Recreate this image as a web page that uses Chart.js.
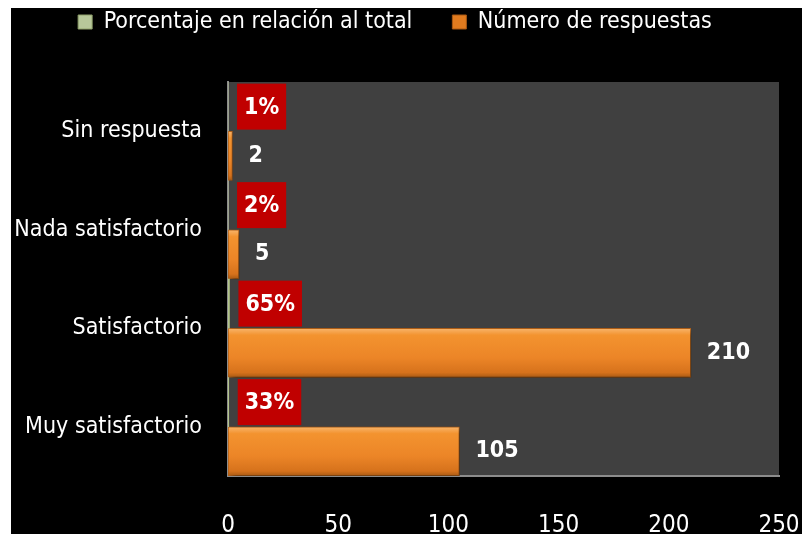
<!DOCTYPE html>
<html lang="es">
<head>
<meta charset="UTF-8">
<title>Satisfacción</title>
<script src="https://cdn.jsdelivr.net/npm/chart.js"></script>
<style>
  html, body { margin: 0; padding: 0; background: #fff; overflow: hidden; }
  #wrap { position: absolute; left: 11px; top: 8px; width: 791px; height: 526px; background: #000; overflow: hidden; }
  #chart { display: block; }
</style>
</head>
<body>
<div id="wrap"><canvas id="chart" width="791" height="560"></canvas></div>
<script>
const categories = ['Sin respuesta', 'Nada satisfactorio', 'Satisfactorio', 'Muy satisfactorio'];
const responseCounts = [2, 5, 210, 105];
const shareOfTotal = [0.01, 0.02, 0.65, 0.33];
const seriesNames = ['Porcentaje en relación al total', 'Número de respuestas'];
const xTicks = [0, 50, 100, 150, 200, 250];

const FONT = "'DejaVu Sans Condensed', 'DejaVu Sans', sans-serif";
const TEXT_SIZE = 23;
Chart.defaults.font.family = FONT;
Chart.defaults.color = '#fff';

// orange bars get a vertical gradient, worked out from the category band
function orangeFill(c) {
    const chart = c.chart;
    const ys = chart.scales.y;
    if (!ys || c.dataIndex == null || !isFinite(ys.top)) return '#EC8527';
    const band = (ys.bottom - ys.top) / categories.length;
    const top = ys.getPixelForValue(c.dataIndex);
    const g = chart.ctx.createLinearGradient(0, top, 0, top + band / 2);
    g.addColorStop(0, '#F8B56C');
    g.addColorStop(0.14, '#F3932F');
    g.addColorStop(0.6, '#EC8527');
    g.addColorStop(0.9, '#D6721C');
    g.addColorStop(1, '#A85913');
    return g;
}

const plotBackground = {
    id: 'plotBackground',
    beforeDraw(chart) {
        const {ctx, chartArea: a} = chart;
        ctx.save();
        ctx.fillStyle = '#404040';
        ctx.fillRect(a.left, a.top, a.right - a.left, a.bottom - a.top);
        ctx.restore();
    }
};

const legendSpace = {
    id: 'legendSpace',
    beforeInit(chart) {
        const legend = chart.legend;
        const fit = legend.fit;
        legend.fit = function () { fit.call(this); this.height = 74; };
    },
    afterLayout(chart) {
        // pull the legend row up near the top edge
        chart.legend.top = -(40 + TEXT_SIZE / 2) + 14;
    }
};

const barShadow = {
    id: 'barShadow',
    beforeDatasetDraw(chart, args) {
        if (args.index !== 1) return;
        const ctx = chart.ctx;
        ctx.save();
        ctx.shadowColor = 'rgba(0,0,0,0.55)';
        ctx.shadowBlur = 6;
        ctx.shadowOffsetX = 3;
        ctx.shadowOffsetY = 3;
    },
    afterDatasetDraw(chart, args) {
        if (args.index !== 1) return;
        chart.ctx.restore();
    }
};

const valueLabels = {
    id: 'valueLabels',
    afterDatasetsDraw(chart) {
        const ctx = chart.ctx;
        ctx.save();
        ctx.font = 'bold ' + TEXT_SIZE + 'px ' + FONT;
        ctx.textBaseline = 'middle';
        ctx.textAlign = 'left';
        chart.getDatasetMeta(0).data.forEach((bar, i) => {
            const text = Math.round(shareOfTotal[i] * 100) + '%';
            const w = ctx.measureText(text).width;
            const x = bar.x + 9;
            ctx.fillStyle = '#C00000';
            ctx.fillRect(x, bar.y - 23, w + 14, 46);
            ctx.fillStyle = '#fff';
            ctx.fillText(text, x + 7, bar.y + 1);
        });
        chart.getDatasetMeta(1).data.forEach((bar, i) => {
            ctx.fillStyle = '#fff';
            ctx.fillText(String(responseCounts[i]), bar.x + 16, bar.y);
        });
        ctx.restore();
    }
};

new Chart(document.getElementById('chart'), {
    type: 'bar',
    data: {
        labels: categories,
        datasets: [
            {
                label: seriesNames[0],
                data: shareOfTotal,
                backgroundColor: '#B3C58A',
                categoryPercentage: 1,
                barPercentage: 1
            },
            {
                label: seriesNames[1],
                data: responseCounts,
                backgroundColor: orangeFill,
                borderColor: '#B8641A',
                borderWidth: 1,
                borderSkipped: false,
                categoryPercentage: 1,
                barPercentage: 1
            }
        ]
    },
    options: {
        indexAxis: 'y',
        responsive: false,
        animation: false,
        layout: { padding: { left: 0, right: 23, top: 0, bottom: 0 } },
        plugins: {
            tooltip: { enabled: false },
            legend: {
                position: 'top',
                labels: {
                    color: '#fff',
                    font: { size: TEXT_SIZE },
                    boxWidth: 14,
                    boxHeight: 14,
                    padding: 40,
                    generateLabels() {
                        return [
                            { text: seriesNames[0], fillStyle: '#B7C79A', strokeStyle: '#8FA06A', lineWidth: 1, fontColor: '#fff', datasetIndex: 0 },
                            { text: seriesNames[1], fillStyle: '#E07B1F', strokeStyle: '#A85913', lineWidth: 1, fontColor: '#fff', datasetIndex: 1 }
                        ];
                    }
                }
            }
        },
        scales: {
            x: {
                min: 0,
                max: 250,
                afterBuildTicks(scale) { scale.ticks = xTicks.map(v => ({ value: v })); },
                afterFit(scale) {
                    scale.height = 92;
                    scale.paddingLeft = 0;
                    scale.paddingRight = 0;
                },
                grid: { display: false, drawTicks: false },
                border: { display: true, color: '#8C8C8C', width: 2 },
                ticks: { color: '#fff', font: { size: 24 }, padding: 35, maxRotation: 0 }
            },
            y: {
                afterFit(scale) { scale.width = 217; },
                grid: { display: false, drawTicks: false },
                border: { display: true, color: '#8C8C8C', width: 2 },
                ticks: { color: '#fff', font: { size: TEXT_SIZE }, padding: 26 }
            }
        }
    },
    plugins: [plotBackground, legendSpace, barShadow, valueLabels]
});
</script>
</body>
</html>
